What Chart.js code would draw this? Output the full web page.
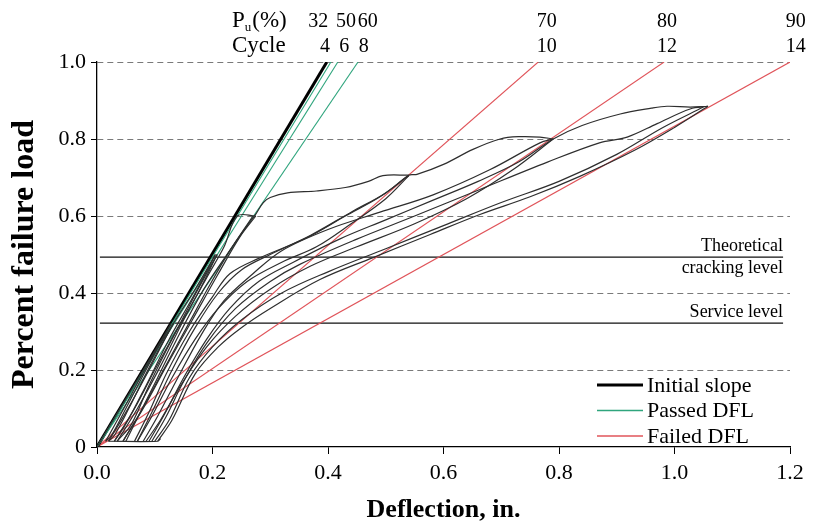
<!DOCTYPE html>
<html>
<head>
<meta charset="utf-8">
<script src="https://cdn.jsdelivr.net/npm/chart.js@4.4.1/dist/chart.umd.min.js"></script>
<style>
  html, body { margin: 0; padding: 0; background: #fff; }
  #wrap { width: 815px; height: 531px; }
</style>
</head>
<body>
<div id="wrap"><canvas id="loadChart" width="815" height="531"></canvas></div>
<script>
// --- data: [deflection (in.), fraction of failure load] ---

// 32% cycles
const c32a = [[0, 0], [0.05, 0.125], [0.1, 0.25], [0.128, 0.32]];
const c32b = [[0.128, 0.32], [0.09, 0.215], [0.05, 0.1], [0.025, 0.03], [0.015, 0.015]];
const c32c = [[0.015, 0.015], [0.05, 0.11], [0.09, 0.22], [0.132, 0.32]];
const c32d = [[0.132, 0.32], [0.095, 0.22], [0.055, 0.1], [0.03, 0.03], [0.02, 0.015]];

// 50% cycles
const c50a = [[0.02, 0.015], [0.05, 0.09], [0.09, 0.2], [0.132, 0.32], [0.17, 0.41], [0.205, 0.5]];
const c50b = [[0.205, 0.5], [0.17, 0.4], [0.125, 0.28], [0.085, 0.16], [0.05, 0.06], [0.03, 0.015]];
const c50c = [[0.03, 0.015], [0.065, 0.1], [0.1, 0.2], [0.14, 0.31], [0.175, 0.41], [0.208, 0.5]];
const c50d = [[0.208, 0.5], [0.175, 0.4], [0.13, 0.28], [0.09, 0.16], [0.06, 0.06], [0.035, 0.015]];

// 60% cycles
const c60a = [[0.035, 0.015], [0.07, 0.1], [0.11, 0.21], [0.15, 0.33], [0.19, 0.44], [0.22, 0.52], [0.243, 0.6], [0.275, 0.6]];
const c60b = [[0.275, 0.6], [0.248, 0.547], [0.21, 0.45], [0.165, 0.33], [0.12, 0.21], [0.08, 0.1], [0.055, 0.04], [0.045, 0.015]];
const c60c = [[0.045, 0.015], [0.075, 0.09], [0.115, 0.2], [0.155, 0.31], [0.195, 0.42], [0.23, 0.51], [0.27, 0.6]];

// 70% cycles
const c70a = [[0.05, 0.015], [0.075, 0.09], [0.105, 0.18], [0.145, 0.3], [0.185, 0.41], [0.225, 0.5], [0.255, 0.565],
  [0.275, 0.605], [0.288, 0.635], [0.3, 0.648], [0.33, 0.66], [0.38, 0.665], [0.43, 0.674], [0.47, 0.69], [0.495, 0.705], [0.54, 0.706]];
const c70b = [[0.065, 0.015], [0.09, 0.09], [0.12, 0.19], [0.16, 0.3], [0.2, 0.39], [0.23, 0.45], [0.28, 0.49],
  [0.364, 0.544], [0.43, 0.6], [0.49, 0.65], [0.54, 0.705]];
const c70c = [[0.07, 0.015], [0.095, 0.08], [0.13, 0.18], [0.17, 0.28], [0.21, 0.36], [0.26, 0.43], [0.32, 0.48],
  [0.38, 0.52], [0.44, 0.58], [0.5, 0.645], [0.54, 0.705]];

// 80% cycles
const c80a = [[0.07, 0.015], [0.095, 0.09], [0.13, 0.2], [0.17, 0.31], [0.21, 0.4], [0.25, 0.46], [0.3, 0.5], [0.37, 0.55],
  [0.44, 0.61], [0.5, 0.66], [0.54, 0.706], [0.554, 0.708], [0.6, 0.734], [0.651, 0.773], [0.698, 0.8], [0.73, 0.806], [0.767, 0.805], [0.79, 0.8]];
const c80b = [[0.08, 0.015], [0.105, 0.08], [0.14, 0.18], [0.18, 0.29], [0.22, 0.38], [0.27, 0.45], [0.32, 0.51],
  [0.4, 0.565], [0.49, 0.61], [0.582, 0.655], [0.68, 0.72], [0.767, 0.79], [0.79, 0.8]];
const c80c = [[0.085, 0.015], [0.11, 0.07], [0.145, 0.16], [0.19, 0.26], [0.24, 0.34], [0.3, 0.41], [0.37, 0.47],
  [0.45, 0.52], [0.55, 0.58], [0.64, 0.645], [0.72, 0.72], [0.79, 0.8]];

// 90% cycles
const c90a = [[0.09, 0.015], [0.115, 0.08], [0.15, 0.18], [0.19, 0.28], [0.23, 0.36], [0.28, 0.43], [0.34, 0.48], [0.42, 0.54],
  [0.5, 0.59], [0.58, 0.64], [0.66, 0.69], [0.73, 0.74], [0.79, 0.8], [0.84, 0.835], [0.906, 0.865], [0.96, 0.88],
  [0.987, 0.885], [1.027, 0.883], [1.058, 0.885]];
const c90b = [[0.095, 0.015], [0.12, 0.08], [0.15, 0.17], [0.19, 0.27], [0.24, 0.36], [0.3, 0.43], [0.352, 0.475],
  [0.45, 0.54], [0.55, 0.6], [0.663, 0.669], [0.78, 0.74], [0.87, 0.79], [0.918, 0.805], [0.97, 0.84], [1.027, 0.878], [1.058, 0.885]];
const c90c = [[0.1, 0.015], [0.125, 0.07], [0.16, 0.18], [0.2, 0.26], [0.25, 0.33], [0.32, 0.4], [0.4, 0.455],
  [0.5, 0.515], [0.6, 0.575], [0.7, 0.635], [0.8, 0.69], [0.9, 0.76], [0.98, 0.83], [1.05, 0.883]];
const c90d = [[0.105, 0.015], [0.13, 0.07], [0.17, 0.19], [0.21, 0.26], [0.25, 0.31], [0.3, 0.36], [0.386, 0.435],
  [0.478, 0.492], [0.577, 0.552], [0.663, 0.604], [0.75, 0.65], [0.836, 0.703], [0.93, 0.77], [1.0, 0.83], [1.058, 0.885]];

// residual run along the bottom
const residualRun = [[0.02, 0.015], [0.105, 0.015], [0.11, 0.022]];

// DFL secant lines: deflection where each line reaches load 1.0
const initialSlopeEnd = 0.398;
const passedEnds = [0.405, 0.417, 0.452];
const failedEnds = [0.764, 0.982, 1.2];

// reference levels
const crackLevel = 0.493;
const serviceLevel = 0.322;
const levelStartX = 0.005;
const levelEndX = 1.188;

// labels along the top
const puLabels = ['32', '50', '60', '70', '80', '90'];
const puLabelX = [0.383, 0.431, 0.469, 0.779, 0.987, 1.21];
const cycleLabels = ['4', '6', '8', '10', '12', '14'];
const cycleLabelX = [0.395, 0.428, 0.462, 0.779, 0.987, 1.21];

const legendLabels = ['Initial slope', 'Passed DFL', 'Failed DFL'];

// --- build datasets ---
const SERIF = '"Liberation Serif", "Times New Roman", serif';
const CURVE_COLOR = '#2e2e2e';
const GREEN = '#2fa57d';
const RED = '#e0545a';

const toPts = arr => arr.map(([x, y]) => ({ x, y }));

const loopCurves = [c32a, c32b, c32c, c32d, c50a, c50b, c50c, c50d, c60a, c60b, c60c,
  c70a, c70b, c70c, c80a, c80b, c80c, c90a, c90b, c90c, c90d, residualRun];

const datasets = [];
loopCurves.forEach(c => datasets.push({
  data: toPts(c), borderColor: CURVE_COLOR, borderWidth: 1.2, tension: 0.35
}));
passedEnds.forEach(e => datasets.push({
  data: [{ x: 0, y: 0 }, { x: e, y: 1 }], borderColor: GREEN, borderWidth: 1.1
}));
datasets.push({
  data: [{ x: 0, y: 0 }, { x: initialSlopeEnd, y: 1 }], borderColor: '#000', borderWidth: 3
});
failedEnds.forEach(e => datasets.push({
  data: [{ x: 0, y: 0 }, { x: e, y: 1 }], borderColor: RED, borderWidth: 1.1
}));
[crackLevel, serviceLevel].forEach(v => datasets.push({
  data: [{ x: levelStartX, y: v }, { x: levelEndX, y: v }], borderColor: '#111', borderWidth: 1.3
}));
datasets.forEach(d => { d.showLine = true; d.pointRadius = 0; d.fill = false; });

const legendStyles = [
  { color: '#000', width: 3 },
  { color: GREEN, width: 1.5 },
  { color: RED, width: 1.5 }
];

// annotations: header rows, level captions, legend
const annotations = {
  id: 'annotations',
  afterDraw(chart) {
    const { ctx, scales: { x, y } } = chart;
    ctx.save();
    ctx.fillStyle = '#000';
    ctx.textBaseline = 'alphabetic';

    // header "Pu(%)" / "Cycle"
    const hx = 232;
    ctx.textAlign = 'left';
    ctx.font = '23px ' + SERIF;
    ctx.fillText('P', hx, 27);
    const pw = ctx.measureText('P').width;
    ctx.font = '13px ' + SERIF;
    ctx.fillText('u', hx + pw, 31);
    const uw = ctx.measureText('u').width;
    ctx.font = '23px ' + SERIF;
    ctx.fillText('(%)', hx + pw + uw + 1, 27);
    ctx.fillText('Cycle', hx, 52);

    ctx.font = '20px ' + SERIF;
    ctx.textAlign = 'center';
    puLabels.forEach((t, i) => ctx.fillText(t, x.getPixelForValue(puLabelX[i]), 27));
    cycleLabels.forEach((t, i) => ctx.fillText(t, x.getPixelForValue(cycleLabelX[i]), 52));

    // level captions
    ctx.font = '18px ' + SERIF;
    ctx.textAlign = 'right';
    const lx = x.getPixelForValue(levelEndX);
    const cy = y.getPixelForValue(crackLevel);
    const sy = y.getPixelForValue(serviceLevel);
    ctx.fillText('Theoretical', lx, cy - 6);
    ctx.fillText('cracking level', lx, cy + 16);
    ctx.fillText('Service level', lx, sy - 6);

    // legend
    ctx.font = '22px ' + SERIF;
    ctx.textAlign = 'left';
    ctx.textBaseline = 'middle';
    legendLabels.forEach((t, i) => {
      const ly = 385 + i * 25.5;
      ctx.strokeStyle = legendStyles[i].color;
      ctx.lineWidth = legendStyles[i].width;
      ctx.beginPath();
      ctx.moveTo(597, ly);
      ctx.lineTo(643, ly);
      ctx.stroke();
      ctx.fillText(t, 647, ly + 1);
    });
    ctx.restore();
  }
};

new Chart(document.getElementById('loadChart'), {
  type: 'scatter',
  data: { datasets },
  options: {
    responsive: false,
    animation: false,
    layout: { padding: { top: 62, right: 25, left: 0, bottom: 0 } },
    plugins: { legend: { display: false }, tooltip: { enabled: false } },
    scales: {
      x: {
        type: 'linear', min: 0, max: 1.2,
        ticks: {
          stepSize: 0.2, autoSkip: false, maxRotation: 0, padding: 6, color: '#000',
          font: { family: SERIF, size: 22 },
          callback: v => Number(v).toFixed(1)
        },
        grid: { drawOnChartArea: false, tickLength: 7, color: '#000', tickColor: '#000' },
        border: { color: '#000', width: 1.3 },
        title: {
          display: true, text: 'Deflection, in.', color: '#000',
          font: { family: SERIF, size: 26, weight: 'bold' }, padding: { top: 0, bottom: 5 }
        },
        afterFit: s => { s.height = 84; }
      },
      y: {
        type: 'linear', min: 0, max: 1,
        ticks: { stepSize: 0.2, padding: 5, color: '#000', font: { family: SERIF, size: 22 } },
        grid: {
          color: c => (c.tick && c.tick.value === 0) ? 'rgba(0,0,0,0)' : '#7a7a7a',
          tickColor: '#000', tickLength: 6, tickBorderDash: []
        },
        border: { color: '#000', width: 1.3, dash: [6, 4] },
        title: {
          display: true, text: 'Percent failure load', color: '#000',
          font: { family: SERIF, size: 32, weight: 'bold' }, padding: { top: 6, bottom: 0 }
        },
        afterFit: s => { s.width = 97; }
      }
    }
  },
  plugins: [annotations]
});
</script>
</body>
</html>
